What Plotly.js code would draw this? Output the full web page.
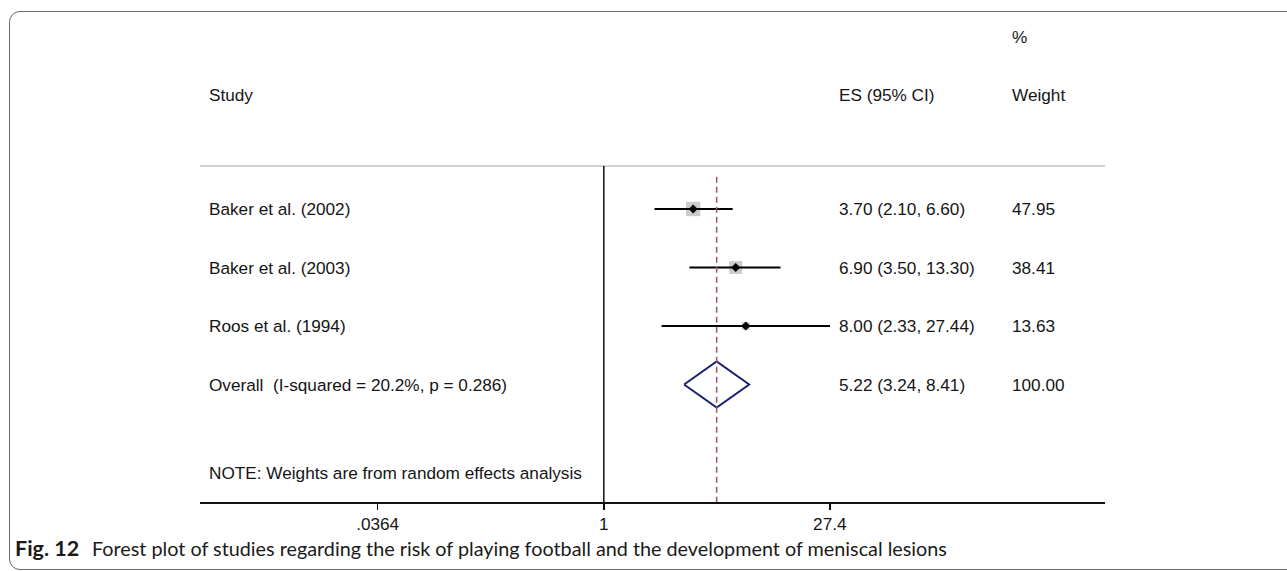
<!DOCTYPE html>
<html>
<head>
<meta charset="utf-8">
<script src="https://cdn.plot.ly/plotly-3.0.1.min.js"></script>
<style>
  html, body { margin: 0; padding: 0; background: #ffffff; }
  #wrap { position: relative; width: 1287px; height: 571px; overflow: hidden; }
  #frame {
    position: absolute; left: 9px; top: 11px; width: 1300px; height: 559px;
    border: 1.5px solid #6a6a6a; border-radius: 11px; box-sizing: border-box;
  }
  #chart { position: absolute; left: 0; top: 0; width: 1287px; height: 571px; }
</style>
</head>
<body>
<div id="wrap">
  <div id="frame"></div>
  <div id="chart"></div>
</div>
<script>
// Study-level estimates (risk ratios with 95% CI) and random-effects weights
const studies  = ["Baker et al. (2002)", "Baker et al. (2003)", "Roos et al. (1994)"];
const esValues = [3.70, 6.90, 8.00];
const ciLower  = [2.10, 3.50, 2.33];
const ciUpper  = [6.60, 13.30, 27.44];
const weights  = [47.95, 38.41, 13.63];

// Pooled estimate
const overallLabel  = "Overall  (I-squared = 20.2%, p = 0.286)";
const overallES     = 5.22;
const overallLower  = 3.24;
const overallUpper  = 8.41;
const overallWeight = 100.00;

const noteText = "NOTE: Weights are from random effects analysis";
const captionBold = "Fig. 12";
const captionText = "Forest plot of studies regarding the risk of playing football and the development of meniscal lesions";

// Axis ticks
const tickVals  = [0.0364, 1, 27.4];
const tickTexts = [".0364", "1", "27.4"];

// Row layout (row index grows downwards)
const studyRows   = studies.map((_, i) => i + 1);
const overallRow  = studies.length + 1;
const noteRow     = 5.51;
const headerRow   = -0.949;
const headerRow2  = -1.94;
const ruleRow     = 0.265;
const yRange      = [6.0085, -2.2308];
const xRangeLog   = [-2.569, 3.1882];

const FONT = "'Liberation Sans', Arial, Helvetica, sans-serif";
const CAPFONT = "Lato, 'Open Sans', sans-serif";
const TXT = { family: FONT, size: 17.2, color: "#151515" };

const fmt = v => v.toFixed(2);

// Marker box side grows with the square root of the weight (area ~ weight)
const boxSizes = weights.map(w => 2.07 * Math.sqrt(w));

const traces = [];

// Weight boxes
traces.push({
  type: "scatter", mode: "markers",
  x: esValues, y: studyRows,
  marker: { symbol: "square", size: boxSizes, color: "#b5b5b5", line: { width: 0 } },
  hoverinfo: "skip", showlegend: false
});

// Confidence-interval whiskers
studies.forEach((s, i) => {
  traces.push({
    type: "scatter", mode: "lines",
    x: [ciLower[i], ciUpper[i]], y: [studyRows[i], studyRows[i]],
    line: { color: "#000000", width: 2 },
    hoverinfo: "skip", showlegend: false
  });
});

// Point estimates
traces.push({
  type: "scatter", mode: "markers",
  x: esValues, y: studyRows,
  marker: { symbol: "diamond", size: 7, color: "#000000" },
  hoverinfo: "skip", showlegend: false
});

// Pooled-effect diamond
const dh = 0.393;
traces.push({
  type: "scatter", mode: "lines",
  x: [overallLower, overallES, overallUpper, overallES, overallLower],
  y: [overallRow, overallRow - dh, overallRow, overallRow + dh, overallRow],
  line: { color: "#1d206c", width: 2 },
  hoverinfo: "skip", showlegend: false
});

const shapes = [
  // header rule
  { type: "line", xref: "paper", yref: "y", x0: 0, x1: 1, y0: ruleRow, y1: ruleRow,
    line: { color: "#d2d2d2", width: 2 } },
  // no-effect line
  { type: "line", xref: "x", yref: "y", x0: 1, x1: 1, y0: ruleRow, y1: yRange[0],
    line: { color: "#111111", width: 1.5 } },
  // pooled-effect line
  { type: "line", xref: "x", yref: "y", x0: overallES, x1: overallES, y0: 0.45, y1: yRange[0],
    line: { color: "#a5525a", width: 1.5, dash: "6px,4px" } }
];

const colStudy = 0.0077, colES = 0.7039, colW = 0.8950;
const ann = [];
function txt(x, y, text, extra) {
  ann.push(Object.assign({
    xref: "paper", yref: "y", x: x, y: y, text: text, showarrow: false,
    xanchor: "left", yanchor: "middle", font: TXT
  }, extra || {}));
}

txt(colW, headerRow2, "%");
txt(colStudy, headerRow, "Study");
txt(colES, headerRow, "ES (95% CI)");
txt(colW, headerRow, "Weight");

studies.forEach((s, i) => {
  txt(colStudy, studyRows[i], s);
  txt(colES, studyRows[i], `${fmt(esValues[i])} (${fmt(ciLower[i])}, ${fmt(ciUpper[i])})`);
  txt(colW, studyRows[i], fmt(weights[i]));
});
txt(colStudy, overallRow, overallLabel);
txt(colES, overallRow, `${fmt(overallES)} (${fmt(overallLower)}, ${fmt(overallUpper)})`);
txt(colW, overallRow, fmt(overallWeight));
txt(colStudy, noteRow, noteText);

// Figure caption: bold figure number, then the description
const capY = (502 - 548) / 482;
ann.push({
  xref: "paper", yref: "paper", x: (13 - 200) / 905, y: capY,
  xanchor: "left", yanchor: "middle", showarrow: false,
  text: `<b>${captionBold}</b>`,
  font: { family: CAPFONT, size: 21.5, color: "#1a1a1a" }
});
ann.push({
  xref: "paper", yref: "paper", x: (90 - 200) / 905, y: capY,
  xanchor: "left", yanchor: "middle", showarrow: false,
  text: captionText,
  font: { family: CAPFONT, size: 19.8, color: "#1a1a1a" }
});

const layout = {
  width: 1287, height: 571,
  margin: { l: 200, r: 182, t: 20, b: 69, pad: 0 },
  paper_bgcolor: "rgba(0,0,0,0)", plot_bgcolor: "rgba(0,0,0,0)",
  showlegend: false,
  xaxis: {
    type: "log", range: xRangeLog,
    tickmode: "array", tickvals: tickVals, ticktext: tickTexts,
    ticks: "outside", ticklen: 6, tickwidth: 1.5, tickcolor: "#111111",
    showline: true, linecolor: "#111111", linewidth: 1.5,
    showgrid: false, zeroline: false, fixedrange: true,
    tickfont: { family: FONT, size: 17.2, color: "#151515" }
  },
  yaxis: { range: yRange, visible: false, fixedrange: true, showgrid: false, zeroline: false },
  shapes: shapes,
  annotations: ann
};

Plotly.newPlot("chart", traces, layout, { displayModeBar: false, staticPlot: true });
</script>
</body>
</html>
